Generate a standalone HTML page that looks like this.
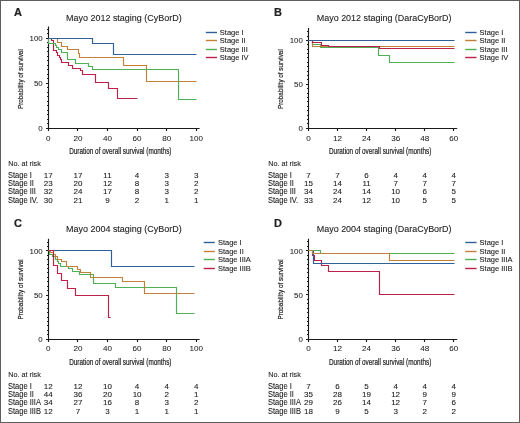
<!DOCTYPE html>
<html><head><meta charset="utf-8"><style>
html,body{margin:0;padding:0;background:#fff;}
#w{position:relative;width:520px;height:423px;overflow:hidden;background:#fff;}
svg{position:absolute;left:0;top:0;will-change:transform;}
text{font-family:"Liberation Sans", sans-serif;fill:#222;}
</style></head><body><div id="w">
<svg width="520" height="423" viewBox="0 0 520 423">
<rect x="0" y="0" width="520" height="1" fill="#5e5e5e"/><rect x="0" y="422" width="520" height="1" fill="#5e5e5e"/><rect x="0" y="0" width="1" height="423" fill="#5e5e5e"/><rect x="519" y="0" width="1" height="423" fill="#5e5e5e"/>
<text x="13.9" y="15.7" font-size="11" text-anchor="start" font-weight="bold" stroke="#222" stroke-width="0.2">A</text>
<text x="66" y="20.9" font-size="9" text-anchor="start" font-weight="normal" textLength="115.7" lengthAdjust="spacingAndGlyphs" stroke="#222" stroke-width="0.1">Mayo 2012 staging (CyBorD)</text>
<path d="M48.5,26.4 V131 M48,128.5 H199.6 M46,128.5 H48.5 M47,123.5 H48.5 M47,119.5 H48.5 M47,114.5 H48.5 M47,110.5 H48.5 M47,105.5 H48.5 M47,101.5 H48.5 M47,96.5 H48.5 M47,92.5 H48.5 M47,87.5 H48.5 M46,83.5 H48.5 M47,78.5 H48.5 M47,74.5 H48.5 M47,69.5 H48.5 M47,65.5 H48.5 M47,60.5 H48.5 M47,56.5 H48.5 M47,51.5 H48.5 M47,47.5 H48.5 M47,42.5 H48.5 M46,38.5 H48.5 M47,33.5 H48.5 M47,29.5 H48.5 M48.5,128.5 V131 M77.5,128.5 V131 M107.5,128.5 V131 M137.5,128.5 V131 M166.5,128.5 V131 M196.5,128.5 V131" stroke="#1a1a1a" stroke-width="1.15" fill="none"/>
<text x="42.7" y="131.1" font-size="7.9" text-anchor="end" font-weight="normal"  stroke="#222" stroke-width="0.05">0</text>
<text x="42.7" y="86.1" font-size="7.9" text-anchor="end" font-weight="normal"  stroke="#222" stroke-width="0.05">50</text>
<text x="42.7" y="41.1" font-size="7.9" text-anchor="end" font-weight="normal"  stroke="#222" stroke-width="0.05">100</text>
<text x="48.3" y="140.6" font-size="8.1" text-anchor="middle" font-weight="normal"  stroke="#222" stroke-width="0.05">0</text>
<text x="77.9" y="140.6" font-size="8.1" text-anchor="middle" font-weight="normal"  stroke="#222" stroke-width="0.05">20</text>
<text x="107.5" y="140.6" font-size="8.1" text-anchor="middle" font-weight="normal"  stroke="#222" stroke-width="0.05">40</text>
<text x="137.1" y="140.6" font-size="8.1" text-anchor="middle" font-weight="normal"  stroke="#222" stroke-width="0.05">60</text>
<text x="166.7" y="140.6" font-size="8.1" text-anchor="middle" font-weight="normal"  stroke="#222" stroke-width="0.05">80</text>
<text x="196.3" y="140.6" font-size="8.1" text-anchor="middle" font-weight="normal"  stroke="#222" stroke-width="0.05">100</text>
<text x="69.2" y="153.5" font-size="8.2" text-anchor="start" font-weight="normal" textLength="102.3" lengthAdjust="spacingAndGlyphs" stroke="#222" stroke-width="0.2">Duration of overall survival (months)</text>
<text transform="translate(23,109) rotate(-90)" font-size="8.1" textLength="59.8" lengthAdjust="spacingAndGlyphs" stroke="#222" stroke-width="0.2">Probability of survival</text>
<path d="M48.5,38.5 H57.5 V42.5 H61.5 V46.5 H67.5 V49.5 H78.5 V53.5 H79.5 V57.5 H123.5 V65.5 H146.5 V81.5 H196.5" stroke="#c2803a" stroke-width="1.15" fill="none"/>
<path d="M48.5,38.5 H51.5 V40.5 H53.5 V50.5 H56.5 V52.5 H57.5 V55.5 H59.5 V57.5 H60.5 V59.5 H61.5 V62.5 H68.5 V65.5 H72.5 V68.5 H80.5 V70.5 H82.5 V74.5 H95.5 V82.5 H108.5 V88.5 H117.5 V98.5 H137.5" stroke="#bc2249" stroke-width="1.15" fill="none"/>
<path d="M48.5,38.5 H48.5 V43.5 H55.5 V45.5 H56.5 V47.5 H58.5 V49.5 H61.5 V52.5 H67.5 V59.5 H75.5 V63.5 H88.5 V66.5 H92.5 V69.5 H178.5 V99.5 H196.5" stroke="#4fb058" stroke-width="1.15" fill="none"/>
<path d="M48.5,38.5 H92.5 V43.5 H113.5 V54.5 H196.5" stroke="#30609a" stroke-width="1.15" fill="none"/>
<path d="M205.8,32.5 H217" stroke="#30609a" stroke-width="1.4"/>
<text x="219.8" y="34.7" font-size="8.0" text-anchor="start" font-weight="normal" textLength="23.77" lengthAdjust="spacingAndGlyphs" stroke="#222" stroke-width="0.1">Stage I</text>
<path d="M205.8,40.5 H217" stroke="#c2803a" stroke-width="1.4"/>
<text x="219.8" y="43.2" font-size="8.0" text-anchor="start" font-weight="normal" textLength="25.85" lengthAdjust="spacingAndGlyphs" stroke="#222" stroke-width="0.1">Stage II</text>
<path d="M205.8,49.5 H217" stroke="#4fb058" stroke-width="1.4"/>
<text x="219.8" y="51.6" font-size="8.0" text-anchor="start" font-weight="normal" textLength="27.93" lengthAdjust="spacingAndGlyphs" stroke="#222" stroke-width="0.1">Stage III</text>
<path d="M205.8,57.5 H217" stroke="#bc2249" stroke-width="1.4"/>
<text x="219.8" y="60.2" font-size="8.0" text-anchor="start" font-weight="normal" textLength="28.77" lengthAdjust="spacingAndGlyphs" stroke="#222" stroke-width="0.1">Stage IV</text>
<text x="8.2" y="166" font-size="7.6" text-anchor="start" font-weight="normal" textLength="32.63" lengthAdjust="spacingAndGlyphs" stroke="#222" stroke-width="0.1">No. at risk</text>
<text x="8" y="177.6" font-size="8.2" text-anchor="start" font-weight="normal" textLength="23.77" lengthAdjust="spacingAndGlyphs" stroke="#222" stroke-width="0.1">Stage I</text>
<text x="48.3" y="177.7" font-size="8.0" text-anchor="middle" font-weight="normal"  stroke="#222" stroke-width="0.1">17</text>
<text x="77.9" y="177.7" font-size="8.0" text-anchor="middle" font-weight="normal"  stroke="#222" stroke-width="0.1">17</text>
<text x="107.5" y="177.7" font-size="8.0" text-anchor="middle" font-weight="normal"  stroke="#222" stroke-width="0.1">11</text>
<text x="137.1" y="177.7" font-size="8.0" text-anchor="middle" font-weight="normal"  stroke="#222" stroke-width="0.1">4</text>
<text x="166.7" y="177.7" font-size="8.0" text-anchor="middle" font-weight="normal"  stroke="#222" stroke-width="0.1">3</text>
<text x="196.3" y="177.7" font-size="8.0" text-anchor="middle" font-weight="normal"  stroke="#222" stroke-width="0.1">3</text>
<text x="8" y="185.8" font-size="8.2" text-anchor="start" font-weight="normal" textLength="25.85" lengthAdjust="spacingAndGlyphs" stroke="#222" stroke-width="0.1">Stage II</text>
<text x="48.3" y="185.9" font-size="8.0" text-anchor="middle" font-weight="normal"  stroke="#222" stroke-width="0.1">23</text>
<text x="77.9" y="185.9" font-size="8.0" text-anchor="middle" font-weight="normal"  stroke="#222" stroke-width="0.1">20</text>
<text x="107.5" y="185.9" font-size="8.0" text-anchor="middle" font-weight="normal"  stroke="#222" stroke-width="0.1">12</text>
<text x="137.1" y="185.9" font-size="8.0" text-anchor="middle" font-weight="normal"  stroke="#222" stroke-width="0.1">8</text>
<text x="166.7" y="185.9" font-size="8.0" text-anchor="middle" font-weight="normal"  stroke="#222" stroke-width="0.1">3</text>
<text x="196.3" y="185.9" font-size="8.0" text-anchor="middle" font-weight="normal"  stroke="#222" stroke-width="0.1">2</text>
<text x="8" y="194.3" font-size="8.2" text-anchor="start" font-weight="normal" textLength="27.93" lengthAdjust="spacingAndGlyphs" stroke="#222" stroke-width="0.1">Stage III</text>
<text x="48.3" y="194.4" font-size="8.0" text-anchor="middle" font-weight="normal"  stroke="#222" stroke-width="0.1">32</text>
<text x="77.9" y="194.4" font-size="8.0" text-anchor="middle" font-weight="normal"  stroke="#222" stroke-width="0.1">24</text>
<text x="107.5" y="194.4" font-size="8.0" text-anchor="middle" font-weight="normal"  stroke="#222" stroke-width="0.1">17</text>
<text x="137.1" y="194.4" font-size="8.0" text-anchor="middle" font-weight="normal"  stroke="#222" stroke-width="0.1">8</text>
<text x="166.7" y="194.4" font-size="8.0" text-anchor="middle" font-weight="normal"  stroke="#222" stroke-width="0.1">3</text>
<text x="196.3" y="194.4" font-size="8.0" text-anchor="middle" font-weight="normal"  stroke="#222" stroke-width="0.1">2</text>
<text x="8" y="202.6" font-size="8.2" text-anchor="start" font-weight="normal" textLength="30.16" lengthAdjust="spacingAndGlyphs" stroke="#222" stroke-width="0.1">Stage IV.</text>
<text x="48.3" y="202.7" font-size="8.0" text-anchor="middle" font-weight="normal"  stroke="#222" stroke-width="0.1">30</text>
<text x="77.9" y="202.7" font-size="8.0" text-anchor="middle" font-weight="normal"  stroke="#222" stroke-width="0.1">21</text>
<text x="107.5" y="202.7" font-size="8.0" text-anchor="middle" font-weight="normal"  stroke="#222" stroke-width="0.1">9</text>
<text x="137.1" y="202.7" font-size="8.0" text-anchor="middle" font-weight="normal"  stroke="#222" stroke-width="0.1">2</text>
<text x="166.7" y="202.7" font-size="8.0" text-anchor="middle" font-weight="normal"  stroke="#222" stroke-width="0.1">1</text>
<text x="196.3" y="202.7" font-size="8.0" text-anchor="middle" font-weight="normal"  stroke="#222" stroke-width="0.1">1</text>
<text x="274.1" y="15.7" font-size="11" text-anchor="start" font-weight="bold" stroke="#222" stroke-width="0.2">B</text>
<text x="316.8" y="20.8" font-size="9" text-anchor="start" font-weight="normal" textLength="134.7" lengthAdjust="spacingAndGlyphs" stroke="#222" stroke-width="0.1">Mayo 2012 staging (DaraCyBorD)</text>
<path d="M308.5,28.1 V131 M308,128.5 H457.2 M306,128.5 H308.5 M307,123.5 H308.5 M307,119.5 H308.5 M307,115.5 H308.5 M307,110.5 H308.5 M307,106.5 H308.5 M307,101.5 H308.5 M307,97.5 H308.5 M307,93.5 H308.5 M307,88.5 H308.5 M306,84.5 H308.5 M307,79.5 H308.5 M307,75.5 H308.5 M307,71.5 H308.5 M307,66.5 H308.5 M307,62.5 H308.5 M307,57.5 H308.5 M307,53.5 H308.5 M307,49.5 H308.5 M307,44.5 H308.5 M306,40.5 H308.5 M307,36.5 H308.5 M307,31.5 H308.5 M308.5,128.5 V131 M337.5,128.5 V131 M366.5,128.5 V131 M395.5,128.5 V131 M424.5,128.5 V131 M453.5,128.5 V131" stroke="#1a1a1a" stroke-width="1.15" fill="none"/>
<text x="302.8" y="131.1" font-size="7.9" text-anchor="end" font-weight="normal"  stroke="#222" stroke-width="0.05">0</text>
<text x="302.8" y="87.15" font-size="7.9" text-anchor="end" font-weight="normal"  stroke="#222" stroke-width="0.05">50</text>
<text x="302.8" y="43.2" font-size="7.9" text-anchor="end" font-weight="normal"  stroke="#222" stroke-width="0.05">100</text>
<text x="308.4" y="140.6" font-size="8.1" text-anchor="middle" font-weight="normal"  stroke="#222" stroke-width="0.05">0</text>
<text x="337.48" y="140.6" font-size="8.1" text-anchor="middle" font-weight="normal"  stroke="#222" stroke-width="0.05">12</text>
<text x="366.56" y="140.6" font-size="8.1" text-anchor="middle" font-weight="normal"  stroke="#222" stroke-width="0.05">24</text>
<text x="395.64" y="140.6" font-size="8.1" text-anchor="middle" font-weight="normal"  stroke="#222" stroke-width="0.05">36</text>
<text x="424.72" y="140.6" font-size="8.1" text-anchor="middle" font-weight="normal"  stroke="#222" stroke-width="0.05">48</text>
<text x="453.8" y="140.6" font-size="8.1" text-anchor="middle" font-weight="normal"  stroke="#222" stroke-width="0.05">60</text>
<text x="329" y="153.5" font-size="8.2" text-anchor="start" font-weight="normal" textLength="102.3" lengthAdjust="spacingAndGlyphs" stroke="#222" stroke-width="0.2">Duration of overall survival (months)</text>
<text transform="translate(283,109) rotate(-90)" font-size="8.1" textLength="59.8" lengthAdjust="spacingAndGlyphs" stroke="#222" stroke-width="0.2">Probability of survival</text>
<path d="M308.5,40.5 H312.5 V44.5 H320.5 V47.5 H378.5 V55.5 H389.5 V62.5 H454.5" stroke="#4fb058" stroke-width="1.15" fill="none"/>
<path d="M308.5,40.5 H312.5 V46.5 H454.5" stroke="#c2803a" stroke-width="1.15" fill="none"/>
<path d="M308.5,40.5 H312.5 V42.5 H321.5 V45.5 H328.5 V46.5 H379.5 V48.5 H454.5" stroke="#bc2249" stroke-width="1.15" fill="none"/>
<path d="M308.5,40.5 H454.5" stroke="#30609a" stroke-width="1.15" fill="none"/>
<path d="M465.2,32.5 H476.6" stroke="#30609a" stroke-width="1.4"/>
<text x="479.6" y="34.7" font-size="8.0" text-anchor="start" font-weight="normal" textLength="23.77" lengthAdjust="spacingAndGlyphs" stroke="#222" stroke-width="0.1">Stage I</text>
<path d="M465.2,40.5 H476.6" stroke="#c2803a" stroke-width="1.4"/>
<text x="479.6" y="43.2" font-size="8.0" text-anchor="start" font-weight="normal" textLength="25.85" lengthAdjust="spacingAndGlyphs" stroke="#222" stroke-width="0.1">Stage II</text>
<path d="M465.2,49.5 H476.6" stroke="#4fb058" stroke-width="1.4"/>
<text x="479.6" y="51.6" font-size="8.0" text-anchor="start" font-weight="normal" textLength="27.93" lengthAdjust="spacingAndGlyphs" stroke="#222" stroke-width="0.1">Stage III</text>
<path d="M465.2,57.5 H476.6" stroke="#bc2249" stroke-width="1.4"/>
<text x="479.6" y="60.2" font-size="8.0" text-anchor="start" font-weight="normal" textLength="28.77" lengthAdjust="spacingAndGlyphs" stroke="#222" stroke-width="0.1">Stage IV</text>
<text x="268.2" y="166" font-size="7.6" text-anchor="start" font-weight="normal" textLength="32.63" lengthAdjust="spacingAndGlyphs" stroke="#222" stroke-width="0.1">No. at risk</text>
<text x="268" y="177.6" font-size="8.2" text-anchor="start" font-weight="normal" textLength="23.77" lengthAdjust="spacingAndGlyphs" stroke="#222" stroke-width="0.1">Stage I</text>
<text x="308.4" y="177.7" font-size="8.0" text-anchor="middle" font-weight="normal"  stroke="#222" stroke-width="0.1">7</text>
<text x="337.48" y="177.7" font-size="8.0" text-anchor="middle" font-weight="normal"  stroke="#222" stroke-width="0.1">7</text>
<text x="366.56" y="177.7" font-size="8.0" text-anchor="middle" font-weight="normal"  stroke="#222" stroke-width="0.1">6</text>
<text x="395.64" y="177.7" font-size="8.0" text-anchor="middle" font-weight="normal"  stroke="#222" stroke-width="0.1">4</text>
<text x="424.72" y="177.7" font-size="8.0" text-anchor="middle" font-weight="normal"  stroke="#222" stroke-width="0.1">4</text>
<text x="453.8" y="177.7" font-size="8.0" text-anchor="middle" font-weight="normal"  stroke="#222" stroke-width="0.1">4</text>
<text x="268" y="185.8" font-size="8.2" text-anchor="start" font-weight="normal" textLength="25.85" lengthAdjust="spacingAndGlyphs" stroke="#222" stroke-width="0.1">Stage II</text>
<text x="308.4" y="185.9" font-size="8.0" text-anchor="middle" font-weight="normal"  stroke="#222" stroke-width="0.1">15</text>
<text x="337.48" y="185.9" font-size="8.0" text-anchor="middle" font-weight="normal"  stroke="#222" stroke-width="0.1">14</text>
<text x="366.56" y="185.9" font-size="8.0" text-anchor="middle" font-weight="normal"  stroke="#222" stroke-width="0.1">11</text>
<text x="395.64" y="185.9" font-size="8.0" text-anchor="middle" font-weight="normal"  stroke="#222" stroke-width="0.1">7</text>
<text x="424.72" y="185.9" font-size="8.0" text-anchor="middle" font-weight="normal"  stroke="#222" stroke-width="0.1">7</text>
<text x="453.8" y="185.9" font-size="8.0" text-anchor="middle" font-weight="normal"  stroke="#222" stroke-width="0.1">7</text>
<text x="268" y="194.3" font-size="8.2" text-anchor="start" font-weight="normal" textLength="27.93" lengthAdjust="spacingAndGlyphs" stroke="#222" stroke-width="0.1">Stage III</text>
<text x="308.4" y="194.4" font-size="8.0" text-anchor="middle" font-weight="normal"  stroke="#222" stroke-width="0.1">34</text>
<text x="337.48" y="194.4" font-size="8.0" text-anchor="middle" font-weight="normal"  stroke="#222" stroke-width="0.1">24</text>
<text x="366.56" y="194.4" font-size="8.0" text-anchor="middle" font-weight="normal"  stroke="#222" stroke-width="0.1">14</text>
<text x="395.64" y="194.4" font-size="8.0" text-anchor="middle" font-weight="normal"  stroke="#222" stroke-width="0.1">10</text>
<text x="424.72" y="194.4" font-size="8.0" text-anchor="middle" font-weight="normal"  stroke="#222" stroke-width="0.1">6</text>
<text x="453.8" y="194.4" font-size="8.0" text-anchor="middle" font-weight="normal"  stroke="#222" stroke-width="0.1">5</text>
<text x="268" y="202.6" font-size="8.2" text-anchor="start" font-weight="normal" textLength="30.16" lengthAdjust="spacingAndGlyphs" stroke="#222" stroke-width="0.1">Stage IV.</text>
<text x="308.4" y="202.7" font-size="8.0" text-anchor="middle" font-weight="normal"  stroke="#222" stroke-width="0.1">33</text>
<text x="337.48" y="202.7" font-size="8.0" text-anchor="middle" font-weight="normal"  stroke="#222" stroke-width="0.1">24</text>
<text x="366.56" y="202.7" font-size="8.0" text-anchor="middle" font-weight="normal"  stroke="#222" stroke-width="0.1">12</text>
<text x="395.64" y="202.7" font-size="8.0" text-anchor="middle" font-weight="normal"  stroke="#222" stroke-width="0.1">10</text>
<text x="424.72" y="202.7" font-size="8.0" text-anchor="middle" font-weight="normal"  stroke="#222" stroke-width="0.1">5</text>
<text x="453.8" y="202.7" font-size="8.0" text-anchor="middle" font-weight="normal"  stroke="#222" stroke-width="0.1">5</text>
<text x="13.9" y="226.6" font-size="11" text-anchor="start" font-weight="bold" stroke="#222" stroke-width="0.2">C</text>
<text x="66" y="231.7" font-size="9" text-anchor="start" font-weight="normal" textLength="115.7" lengthAdjust="spacingAndGlyphs" stroke="#222" stroke-width="0.1">Mayo 2004 staging (CyBorD)</text>
<path d="M48.5,238.8 V342 M48,339.5 H199.6 M46,339.5 H48.5 M47,334.5 H48.5 M47,330.5 H48.5 M47,325.5 H48.5 M47,321.5 H48.5 M47,317.5 H48.5 M47,312.5 H48.5 M47,308.5 H48.5 M47,303.5 H48.5 M47,299.5 H48.5 M46,295.5 H48.5 M47,290.5 H48.5 M47,286.5 H48.5 M47,281.5 H48.5 M47,277.5 H48.5 M47,272.5 H48.5 M47,268.5 H48.5 M47,264.5 H48.5 M47,259.5 H48.5 M47,255.5 H48.5 M46,250.5 H48.5 M47,246.5 H48.5 M47,242.5 H48.5 M48.5,339.5 V342 M77.5,339.5 V342 M107.5,339.5 V342 M137.5,339.5 V342 M166.5,339.5 V342 M196.5,339.5 V342" stroke="#1a1a1a" stroke-width="1.15" fill="none"/>
<text x="42.7" y="341.9" font-size="7.9" text-anchor="end" font-weight="normal"  stroke="#222" stroke-width="0.05">0</text>
<text x="42.7" y="297.8" font-size="7.9" text-anchor="end" font-weight="normal"  stroke="#222" stroke-width="0.05">50</text>
<text x="42.7" y="253.7" font-size="7.9" text-anchor="end" font-weight="normal"  stroke="#222" stroke-width="0.05">100</text>
<text x="48.3" y="351.4" font-size="8.1" text-anchor="middle" font-weight="normal"  stroke="#222" stroke-width="0.05">0</text>
<text x="77.9" y="351.4" font-size="8.1" text-anchor="middle" font-weight="normal"  stroke="#222" stroke-width="0.05">20</text>
<text x="107.5" y="351.4" font-size="8.1" text-anchor="middle" font-weight="normal"  stroke="#222" stroke-width="0.05">40</text>
<text x="137.1" y="351.4" font-size="8.1" text-anchor="middle" font-weight="normal"  stroke="#222" stroke-width="0.05">60</text>
<text x="166.7" y="351.4" font-size="8.1" text-anchor="middle" font-weight="normal"  stroke="#222" stroke-width="0.05">80</text>
<text x="196.3" y="351.4" font-size="8.1" text-anchor="middle" font-weight="normal"  stroke="#222" stroke-width="0.05">100</text>
<text x="69.2" y="364.5" font-size="8.2" text-anchor="start" font-weight="normal" textLength="102.3" lengthAdjust="spacingAndGlyphs" stroke="#222" stroke-width="0.2">Duration of overall survival (months)</text>
<text transform="translate(23,319.6) rotate(-90)" font-size="8.1" textLength="60.2" lengthAdjust="spacingAndGlyphs" stroke="#222" stroke-width="0.2">Probability of survival</text>
<path d="M48.5,250.5 H111.5 V266.5 H194.5" stroke="#30609a" stroke-width="1.15" fill="none"/>
<path d="M48.5,250.5 H49.5 V254.5 H52.5 V256.5 H55.5 V259.5 H57.5 V261.5 H58.5 V263.5 H60.5 V266.5 H68.5 V268.5 H72.5 V271.5 H79.5 V274.5 H93.5 V283.5 H115.5 V287.5 H176.5 V313.5 H194.5" stroke="#4fb058" stroke-width="1.15" fill="none"/>
<path d="M48.5,250.5 H50.5 V252.5 H53.5 V254.5 H55.5 V256.5 H57.5 V259.5 H61.5 V261.5 H66.5 V266.5 H77.5 V269.5 H80.5 V272.5 H90.5 V277.5 H122.5 V281.5 H144.5 V293.5 H194.5" stroke="#c2803a" stroke-width="1.15" fill="none"/>
<path d="M48.5,250.5 H53.5 V265.5 H57.5 V273.5 H61.5 V280.5 H67.5 V288.5 H75.5 V295.5 H108.5 V317.5 H110.5" stroke="#bc2249" stroke-width="1.15" fill="none"/>
<path d="M203.7,242.5 H214.8" stroke="#30609a" stroke-width="1.4"/>
<text x="217.9" y="245.2" font-size="8.0" text-anchor="start" font-weight="normal" textLength="23.77" lengthAdjust="spacingAndGlyphs" stroke="#222" stroke-width="0.1">Stage I</text>
<path d="M203.7,251.5 H214.8" stroke="#c2803a" stroke-width="1.4"/>
<text x="217.9" y="253.6" font-size="8.0" text-anchor="start" font-weight="normal" textLength="25.85" lengthAdjust="spacingAndGlyphs" stroke="#222" stroke-width="0.1">Stage II</text>
<path d="M203.7,259.5 H214.8" stroke="#4fb058" stroke-width="1.4"/>
<text x="217.9" y="262.1" font-size="8.0" text-anchor="start" font-weight="normal" textLength="32.94" lengthAdjust="spacingAndGlyphs" stroke="#222" stroke-width="0.1">Stage IIIA</text>
<path d="M203.7,268.5 H214.8" stroke="#bc2249" stroke-width="1.4"/>
<text x="217.9" y="270.7" font-size="8.0" text-anchor="start" font-weight="normal" textLength="32.94" lengthAdjust="spacingAndGlyphs" stroke="#222" stroke-width="0.1">Stage IIIB</text>
<text x="8.2" y="377" font-size="7.6" text-anchor="start" font-weight="normal" textLength="32.63" lengthAdjust="spacingAndGlyphs" stroke="#222" stroke-width="0.1">No. at risk</text>
<text x="8" y="388.6" font-size="8.2" text-anchor="start" font-weight="normal" textLength="23.77" lengthAdjust="spacingAndGlyphs" stroke="#222" stroke-width="0.1">Stage I</text>
<text x="48.3" y="388.7" font-size="8.0" text-anchor="middle" font-weight="normal"  stroke="#222" stroke-width="0.1">12</text>
<text x="77.9" y="388.7" font-size="8.0" text-anchor="middle" font-weight="normal"  stroke="#222" stroke-width="0.1">12</text>
<text x="107.5" y="388.7" font-size="8.0" text-anchor="middle" font-weight="normal"  stroke="#222" stroke-width="0.1">10</text>
<text x="137.1" y="388.7" font-size="8.0" text-anchor="middle" font-weight="normal"  stroke="#222" stroke-width="0.1">4</text>
<text x="166.7" y="388.7" font-size="8.0" text-anchor="middle" font-weight="normal"  stroke="#222" stroke-width="0.1">4</text>
<text x="196.3" y="388.7" font-size="8.0" text-anchor="middle" font-weight="normal"  stroke="#222" stroke-width="0.1">4</text>
<text x="8" y="396.8" font-size="8.2" text-anchor="start" font-weight="normal" textLength="25.85" lengthAdjust="spacingAndGlyphs" stroke="#222" stroke-width="0.1">Stage II</text>
<text x="48.3" y="396.9" font-size="8.0" text-anchor="middle" font-weight="normal"  stroke="#222" stroke-width="0.1">44</text>
<text x="77.9" y="396.9" font-size="8.0" text-anchor="middle" font-weight="normal"  stroke="#222" stroke-width="0.1">36</text>
<text x="107.5" y="396.9" font-size="8.0" text-anchor="middle" font-weight="normal"  stroke="#222" stroke-width="0.1">20</text>
<text x="137.1" y="396.9" font-size="8.0" text-anchor="middle" font-weight="normal"  stroke="#222" stroke-width="0.1">10</text>
<text x="166.7" y="396.9" font-size="8.0" text-anchor="middle" font-weight="normal"  stroke="#222" stroke-width="0.1">2</text>
<text x="196.3" y="396.9" font-size="8.0" text-anchor="middle" font-weight="normal"  stroke="#222" stroke-width="0.1">1</text>
<text x="8" y="405.3" font-size="8.2" text-anchor="start" font-weight="normal" textLength="32.94" lengthAdjust="spacingAndGlyphs" stroke="#222" stroke-width="0.1">Stage IIIA</text>
<text x="48.3" y="405.4" font-size="8.0" text-anchor="middle" font-weight="normal"  stroke="#222" stroke-width="0.1">34</text>
<text x="77.9" y="405.4" font-size="8.0" text-anchor="middle" font-weight="normal"  stroke="#222" stroke-width="0.1">27</text>
<text x="107.5" y="405.4" font-size="8.0" text-anchor="middle" font-weight="normal"  stroke="#222" stroke-width="0.1">16</text>
<text x="137.1" y="405.4" font-size="8.0" text-anchor="middle" font-weight="normal"  stroke="#222" stroke-width="0.1">8</text>
<text x="166.7" y="405.4" font-size="8.0" text-anchor="middle" font-weight="normal"  stroke="#222" stroke-width="0.1">3</text>
<text x="196.3" y="405.4" font-size="8.0" text-anchor="middle" font-weight="normal"  stroke="#222" stroke-width="0.1">2</text>
<text x="8" y="413.6" font-size="8.2" text-anchor="start" font-weight="normal" textLength="32.94" lengthAdjust="spacingAndGlyphs" stroke="#222" stroke-width="0.1">Stage IIIB</text>
<text x="48.3" y="413.7" font-size="8.0" text-anchor="middle" font-weight="normal"  stroke="#222" stroke-width="0.1">12</text>
<text x="77.9" y="413.7" font-size="8.0" text-anchor="middle" font-weight="normal"  stroke="#222" stroke-width="0.1">7</text>
<text x="107.5" y="413.7" font-size="8.0" text-anchor="middle" font-weight="normal"  stroke="#222" stroke-width="0.1">3</text>
<text x="137.1" y="413.7" font-size="8.0" text-anchor="middle" font-weight="normal"  stroke="#222" stroke-width="0.1">1</text>
<text x="166.7" y="413.7" font-size="8.0" text-anchor="middle" font-weight="normal"  stroke="#222" stroke-width="0.1">1</text>
<text x="196.3" y="413.7" font-size="8.0" text-anchor="middle" font-weight="normal"  stroke="#222" stroke-width="0.1">1</text>
<text x="274.1" y="226.6" font-size="11" text-anchor="start" font-weight="bold" stroke="#222" stroke-width="0.2">D</text>
<text x="316.8" y="231.7" font-size="9" text-anchor="start" font-weight="normal" textLength="134.7" lengthAdjust="spacingAndGlyphs" stroke="#222" stroke-width="0.1">Mayo 2004 staging (DaraCyBorD)</text>
<path d="M308.5,238.8 V342 M308,339.5 H457.2 M306,339.5 H308.5 M307,334.5 H308.5 M307,330.5 H308.5 M307,325.5 H308.5 M307,321.5 H308.5 M307,317.5 H308.5 M307,312.5 H308.5 M307,308.5 H308.5 M307,303.5 H308.5 M307,299.5 H308.5 M306,294.5 H308.5 M307,290.5 H308.5 M307,286.5 H308.5 M307,281.5 H308.5 M307,277.5 H308.5 M307,272.5 H308.5 M307,268.5 H308.5 M307,264.5 H308.5 M307,259.5 H308.5 M307,255.5 H308.5 M306,250.5 H308.5 M307,246.5 H308.5 M307,241.5 H308.5 M308.5,339.5 V342 M337.5,339.5 V342 M366.5,339.5 V342 M395.5,339.5 V342 M424.5,339.5 V342 M453.5,339.5 V342" stroke="#1a1a1a" stroke-width="1.15" fill="none"/>
<text x="302.8" y="341.9" font-size="7.9" text-anchor="end" font-weight="normal"  stroke="#222" stroke-width="0.05">0</text>
<text x="302.8" y="297.75" font-size="7.9" text-anchor="end" font-weight="normal"  stroke="#222" stroke-width="0.05">50</text>
<text x="302.8" y="253.6" font-size="7.9" text-anchor="end" font-weight="normal"  stroke="#222" stroke-width="0.05">100</text>
<text x="308.4" y="351.4" font-size="8.1" text-anchor="middle" font-weight="normal"  stroke="#222" stroke-width="0.05">0</text>
<text x="337.48" y="351.4" font-size="8.1" text-anchor="middle" font-weight="normal"  stroke="#222" stroke-width="0.05">12</text>
<text x="366.56" y="351.4" font-size="8.1" text-anchor="middle" font-weight="normal"  stroke="#222" stroke-width="0.05">24</text>
<text x="395.64" y="351.4" font-size="8.1" text-anchor="middle" font-weight="normal"  stroke="#222" stroke-width="0.05">36</text>
<text x="424.72" y="351.4" font-size="8.1" text-anchor="middle" font-weight="normal"  stroke="#222" stroke-width="0.05">48</text>
<text x="453.8" y="351.4" font-size="8.1" text-anchor="middle" font-weight="normal"  stroke="#222" stroke-width="0.05">60</text>
<text x="329" y="364.5" font-size="8.2" text-anchor="start" font-weight="normal" textLength="102.3" lengthAdjust="spacingAndGlyphs" stroke="#222" stroke-width="0.2">Duration of overall survival (months)</text>
<text transform="translate(283,319.6) rotate(-90)" font-size="8.1" textLength="60.2" lengthAdjust="spacingAndGlyphs" stroke="#222" stroke-width="0.2">Probability of survival</text>
<path d="M308.5,250.5 H312.5 V255.5 H314.5 V260.5 H321.5 V265.5 H328.5 V271.5 H379.5 V294.5 H454.5" stroke="#bc2249" stroke-width="1.15" fill="none"/>
<path d="M308.5,250.5 H313.5 V263.5 H454.5" stroke="#30609a" stroke-width="1.15" fill="none"/>
<path d="M308.5,250.5 H320.5 V253.5 H454.5" stroke="#4fb058" stroke-width="1.15" fill="none"/>
<path d="M308.5,250.5 H312.5 V253.5 H389.5 V260.5 H454.5" stroke="#c2803a" stroke-width="1.15" fill="none"/>
<path d="M465.2,242.5 H476.6" stroke="#30609a" stroke-width="1.4"/>
<text x="479.6" y="245.2" font-size="8.0" text-anchor="start" font-weight="normal" textLength="23.77" lengthAdjust="spacingAndGlyphs" stroke="#222" stroke-width="0.1">Stage I</text>
<path d="M465.2,251.5 H476.6" stroke="#c2803a" stroke-width="1.4"/>
<text x="479.6" y="253.6" font-size="8.0" text-anchor="start" font-weight="normal" textLength="25.85" lengthAdjust="spacingAndGlyphs" stroke="#222" stroke-width="0.1">Stage II</text>
<path d="M465.2,259.5 H476.6" stroke="#4fb058" stroke-width="1.4"/>
<text x="479.6" y="262.1" font-size="8.0" text-anchor="start" font-weight="normal" textLength="32.94" lengthAdjust="spacingAndGlyphs" stroke="#222" stroke-width="0.1">Stage IIIA</text>
<path d="M465.2,268.5 H476.6" stroke="#bc2249" stroke-width="1.4"/>
<text x="479.6" y="270.7" font-size="8.0" text-anchor="start" font-weight="normal" textLength="32.94" lengthAdjust="spacingAndGlyphs" stroke="#222" stroke-width="0.1">Stage IIIB</text>
<text x="268.2" y="377" font-size="7.6" text-anchor="start" font-weight="normal" textLength="32.63" lengthAdjust="spacingAndGlyphs" stroke="#222" stroke-width="0.1">No. at risk</text>
<text x="268" y="388.6" font-size="8.2" text-anchor="start" font-weight="normal" textLength="23.77" lengthAdjust="spacingAndGlyphs" stroke="#222" stroke-width="0.1">Stage I</text>
<text x="308.4" y="388.7" font-size="8.0" text-anchor="middle" font-weight="normal"  stroke="#222" stroke-width="0.1">7</text>
<text x="337.48" y="388.7" font-size="8.0" text-anchor="middle" font-weight="normal"  stroke="#222" stroke-width="0.1">6</text>
<text x="366.56" y="388.7" font-size="8.0" text-anchor="middle" font-weight="normal"  stroke="#222" stroke-width="0.1">5</text>
<text x="395.64" y="388.7" font-size="8.0" text-anchor="middle" font-weight="normal"  stroke="#222" stroke-width="0.1">4</text>
<text x="424.72" y="388.7" font-size="8.0" text-anchor="middle" font-weight="normal"  stroke="#222" stroke-width="0.1">4</text>
<text x="453.8" y="388.7" font-size="8.0" text-anchor="middle" font-weight="normal"  stroke="#222" stroke-width="0.1">4</text>
<text x="268" y="396.8" font-size="8.2" text-anchor="start" font-weight="normal" textLength="25.85" lengthAdjust="spacingAndGlyphs" stroke="#222" stroke-width="0.1">Stage II</text>
<text x="308.4" y="396.9" font-size="8.0" text-anchor="middle" font-weight="normal"  stroke="#222" stroke-width="0.1">35</text>
<text x="337.48" y="396.9" font-size="8.0" text-anchor="middle" font-weight="normal"  stroke="#222" stroke-width="0.1">28</text>
<text x="366.56" y="396.9" font-size="8.0" text-anchor="middle" font-weight="normal"  stroke="#222" stroke-width="0.1">19</text>
<text x="395.64" y="396.9" font-size="8.0" text-anchor="middle" font-weight="normal"  stroke="#222" stroke-width="0.1">12</text>
<text x="424.72" y="396.9" font-size="8.0" text-anchor="middle" font-weight="normal"  stroke="#222" stroke-width="0.1">9</text>
<text x="453.8" y="396.9" font-size="8.0" text-anchor="middle" font-weight="normal"  stroke="#222" stroke-width="0.1">9</text>
<text x="268" y="405.3" font-size="8.2" text-anchor="start" font-weight="normal" textLength="32.94" lengthAdjust="spacingAndGlyphs" stroke="#222" stroke-width="0.1">Stage IIIA</text>
<text x="308.4" y="405.4" font-size="8.0" text-anchor="middle" font-weight="normal"  stroke="#222" stroke-width="0.1">29</text>
<text x="337.48" y="405.4" font-size="8.0" text-anchor="middle" font-weight="normal"  stroke="#222" stroke-width="0.1">26</text>
<text x="366.56" y="405.4" font-size="8.0" text-anchor="middle" font-weight="normal"  stroke="#222" stroke-width="0.1">14</text>
<text x="395.64" y="405.4" font-size="8.0" text-anchor="middle" font-weight="normal"  stroke="#222" stroke-width="0.1">12</text>
<text x="424.72" y="405.4" font-size="8.0" text-anchor="middle" font-weight="normal"  stroke="#222" stroke-width="0.1">7</text>
<text x="453.8" y="405.4" font-size="8.0" text-anchor="middle" font-weight="normal"  stroke="#222" stroke-width="0.1">6</text>
<text x="268" y="413.6" font-size="8.2" text-anchor="start" font-weight="normal" textLength="32.94" lengthAdjust="spacingAndGlyphs" stroke="#222" stroke-width="0.1">Stage IIIB</text>
<text x="308.4" y="413.7" font-size="8.0" text-anchor="middle" font-weight="normal"  stroke="#222" stroke-width="0.1">18</text>
<text x="337.48" y="413.7" font-size="8.0" text-anchor="middle" font-weight="normal"  stroke="#222" stroke-width="0.1">9</text>
<text x="366.56" y="413.7" font-size="8.0" text-anchor="middle" font-weight="normal"  stroke="#222" stroke-width="0.1">5</text>
<text x="395.64" y="413.7" font-size="8.0" text-anchor="middle" font-weight="normal"  stroke="#222" stroke-width="0.1">3</text>
<text x="424.72" y="413.7" font-size="8.0" text-anchor="middle" font-weight="normal"  stroke="#222" stroke-width="0.1">2</text>
<text x="453.8" y="413.7" font-size="8.0" text-anchor="middle" font-weight="normal"  stroke="#222" stroke-width="0.1">2</text>
</svg></div></body></html>
